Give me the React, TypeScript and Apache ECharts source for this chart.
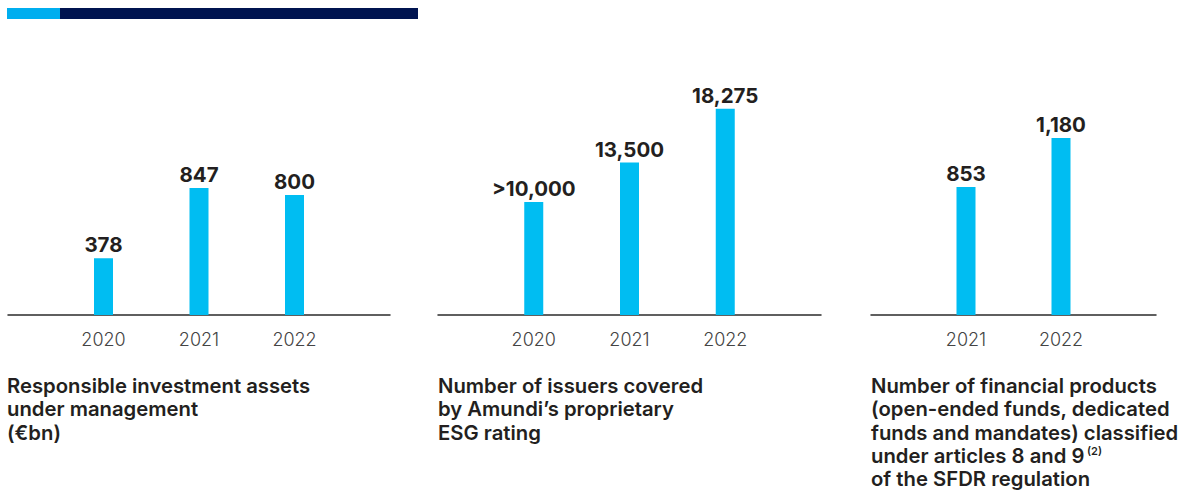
import React, { useEffect, useRef } from "react";
import * as echarts from "echarts";

const years1 = ["", "2020", "2021", "2022", ""];
const assets = ["-", 378, 847, 800, "-"];

const years2 = ["", "2020", "2021", "2022", ""];
const issuers = ["-", 10000, 13500, 18275, "-"];
const issuersPrefix = ["", ">", "", "", ""];

const years3 = ["", "2021", "2022", ""];
const products = ["-", 853, 1180, "-"];

const title1 = "Responsible investment assets\nunder management\n(€bn)";
const title2 = "Number of issuers covered\nby Amundi’s proprietary\nESG rating";
const title3a = "Number of financial products\n(open-ended funds, dedicated\nfunds and mandates) classified";
const title3b = "under articles 8 and 9";
const title3sup = "(2)";
const title3c = "of the SFDR regulation";

const FONT = "Inter, 'Noto Sans', sans-serif";
const BAR = "#00bdf2";
const DARK = "#231f20";

function fmt(v: number) {
  return v.toLocaleString("en-US");
}

export default function App() {
  const ref = useRef<HTMLDivElement>(null);
  useEffect(() => {
    if (!ref.current) return;
    const chart = echarts.init(ref.current, undefined, { renderer: "svg" });
    const axisCommon = (gi: number, data: string[]) => ({
      type: "category",
      gridIndex: gi,
      data,
      boundaryGap: false,
      axisLine: { lineStyle: { color: "#2b2b2b", width: 1.5 } },
      axisTick: { show: false },
      splitLine: { show: false },
      axisLabel: {
        color: "#444",
        fontSize: 18,
        fontWeight: 300,
        fontFamily: FONT,
        margin: 15,
        interval: 0,
      },
    });
    const yCommon = (gi: number, max: number) => ({
      type: "value",
      gridIndex: gi,
      min: 0,
      max,
      show: false,
      splitLine: { show: false },
    });
    const labelCommon = {
      show: true,
      position: "top",
      distance: 3,
      fontSize: 20.5,
      fontWeight: "bold",
      fontFamily: FONT,
      color: DARK,
    };
    const LH = 23.3;
    const T0 = 374;
    const titleStyle = { fontSize: 20.3, fontWeight: 600, fontFamily: FONT, fill: DARK, lineHeight: LH };
    const option: any = {
      animation: false,
      grid: [
        { left: 8, width: 382, top: 15, height: 300 },
        { left: 438, width: 383, top: 89.2, height: 225.8 },
        { left: 871, width: 285, top: 15, height: 300 },
      ],
      xAxis: [axisCommon(0, years1), axisCommon(1, years2), axisCommon(2, years3)],
      yAxis: [yCommon(0, 2000), yCommon(1, 20000), yCommon(2, 2000)],
      series: [
        {
          type: "bar",
          xAxisIndex: 0,
          yAxisIndex: 0,
          data: assets,
          barWidth: 19,
          itemStyle: { color: BAR },
          label: { ...labelCommon, formatter: (p: any) => fmt(p.value) },
        },
        {
          type: "bar",
          xAxisIndex: 1,
          yAxisIndex: 1,
          data: issuers,
          barWidth: 19,
          itemStyle: { color: BAR },
          label: {
            ...labelCommon,
            formatter: (p: any) => issuersPrefix[p.dataIndex] + fmt(p.value),
          },
        },
        {
          type: "bar",
          xAxisIndex: 2,
          yAxisIndex: 2,
          data: products,
          barWidth: 19,
          itemStyle: { color: BAR },
          label: { ...labelCommon, formatter: (p: any) => fmt(p.value) },
        },
      ],
      graphic: [
        { type: "rect", left: 7, top: 8, shape: { width: 53, height: 11 }, style: { fill: "#00aeef" } },
        { type: "rect", left: 60, top: 8, shape: { width: 358, height: 11 }, style: { fill: "#001450" } },
        { type: "text", left: 7, top: T0, style: { text: title1, ...titleStyle } },
        { type: "text", left: 438, top: T0, style: { text: title2, ...titleStyle } },
        { type: "text", left: 871, top: T0, style: { text: title3a, ...titleStyle } },
        { type: "text", left: 871, top: T0 + 3 * LH, style: { text: title3b, ...titleStyle } },
        {
          type: "text",
          left: 1087,
          top: T0 + 3 * LH + 2,
          style: { text: title3sup, fontSize: 11, fontWeight: 600, fontFamily: FONT, fill: DARK },
        },
        { type: "text", left: 871, top: T0 + 4 * LH, style: { text: title3c, ...titleStyle } },
      ],
    };
    chart.setOption(option);
    return () => chart.dispose();
  }, []);
  return (
    <div
      ref={ref}
      style={{ position: "absolute", left: 0, top: 0, width: 1181, height: 493, background: "#fff" }}
    />
  );
}
